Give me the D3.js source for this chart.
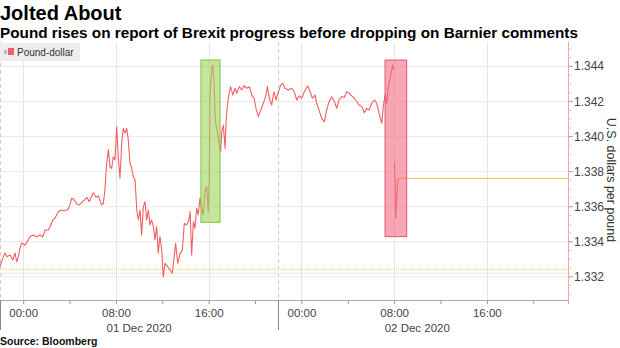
<!DOCTYPE html>
<html>
<head>
<meta charset="utf-8">
<script src="https://cdn.jsdelivr.net/npm/d3@7"></script>
<style>
  body { margin: 0; background: #fff; }
  svg { display: block; font-family: "Liberation Sans", Arial, sans-serif; }
</style>
</head>
<body>
<svg id="chart" width="620" height="348"></svg>
<script>
// GBP/USD intraday, minutes relative to 01 Dec 2020 00:00 (null = gap in the feed)
const minutes = [-120,-103,-94,-85,-68,-54,-42,-34,-25,-17,-8,9,18,35,52,70,87,101,113,130,139,153,165,173,182,199,216,233,242,251,263,277,290,308,320,329,342,355,363,377,389,406,415,423,432,441,449,458,466,475,484,492,501,510,518,527,536,544,553,562,570,579,588,596,605,613,622,631,639,648,656,665,674,682,691,699,708,717,725,734,748,760,772,782,789,800,812,824,834,846,858,864,872,881,889,898,906,915,924,932,941,950,958,963,967,976,981,988,993,998,1005,1015,1022,1028,1036,1045,1050,1057,1067,1074,1085,1097,1105,1119,1131,1143,1157,1171,1183,1195,1205,1217,1230,1243,1257,1264,1274,1286,1298,1309,1321,1333,1343,1355,1372,1390,1403,1416,1428,1442,1455,1473,1485,1497,1511,1519,1531,1545,1559,1571,1583,1597,1611,1623,1635,1649,1662,1675,1687,1701,1714,1727,1738,1752,1766,1778,1790,1804,1818,1830,1842,1856,1864,1873,1882,1890,1903,1909,1913,1916,1919,1922,1926,1928,1932,1937,1942];
const prices = [1.33258,1.33315,1.33336,1.33315,1.33324,1.33296,1.33336,1.33286,1.33315,1.33364,1.33393,1.33381,1.33395,1.33429,1.33439,1.33429,1.33439,1.33427,1.33467,1.33467,1.33486,1.33524,1.33536,1.33553,1.33572,1.33581,1.33577,1.33585,1.33610,1.33648,1.33642,1.33615,1.33610,1.33629,1.33642,1.33654,1.33629,1.33661,1.33680,1.33654,1.33661,1.33610,1.33619,1.33695,1.33848,1.33924,1.33828,1.33819,1.33885,1.33867,1.34057,1.33885,1.33762,1.33962,1.34047,1.34019,1.34047,1.33981,1.33848,1.33819,1.33771,1.33752,1.33581,1.33524,1.33581,1.33439,1.33600,1.33629,1.33524,1.33581,1.33496,1.33524,1.33486,1.33410,1.33486,1.33334,1.33429,1.33353,1.33201,1.33277,1.33258,1.33239,1.33220,1.33315,1.33391,1.33277,1.33334,1.33353,1.33505,1.33496,1.33524,1.33572,1.33324,1.33514,1.33477,1.33591,1.33553,1.33648,1.33591,1.33553,1.33686,1.33714,1.33572,1.33743,1.34237,1.34390,1.34409,1.34313,1.34123,1.34066,1.34028,1.33952,1.33914,1.34028,1.34066,1.33933,1.34085,1.34180,1.34256,1.34285,1.34237,1.34276,1.34247,1.34285,1.34266,1.34290,1.34276,1.34285,1.34237,1.34219,1.34161,1.34114,1.34152,1.34190,1.34237,1.34285,1.34219,1.34180,1.34256,1.34209,1.34256,1.34294,1.34304,1.34276,1.34266,1.34276,1.34256,1.34209,1.34232,1.34219,1.34256,1.34289,1.34256,1.34219,1.34237,1.34190,1.34152,1.34104,1.34085,1.34152,1.34199,1.34228,1.34199,1.34161,1.34209,1.34228,1.34224,1.34256,1.34247,1.34232,1.34219,1.34199,1.34180,1.34171,1.34136,1.34161,1.34152,1.34190,1.34209,1.34190,1.34133,1.34076,1.34171,1.34237,1.34190,1.34285,1.34352,1.34390,1.34409,1.34380,null,1.33857,1.33695,1.33534,1.33610,1.33724,1.33762];

// Axis ticks
const priceTicks = [1.332, 1.334, 1.336, 1.338, 1.340, 1.342, 1.344];
const sessionBreaks = [-120, 1320];            // 22:00 session boundaries
const dateLabels = ["01 Dec 2020", "02 Dec 2020"];
const dateLabelMinutes = [600, 2040];

// Reference levels (prior closes)
const refLevels = [1.33243, 1.33220];

// Highlighted windows: [start, end] minutes and [high, low] prices
const boxStart = [920, 1873];
const boxEnd = [1019, 1985];
const boxHigh = [1.34437, 1.34437];
const boxLow = [1.33511, 1.33429];

const base = Date.UTC(2020, 11, 1, 0, 0);
const toDate = m => new Date(base + m * 60000);

const svg = d3.select("#chart");
const plot = { left: 0, right: 568, top: 42, bottom: 300 };

const x = d3.scaleUtc()
  .domain([toDate(-120), toDate(2820)])
  .range([plot.left, plot.right]);
const y = d3.scaleLinear()
  .domain([1.330676, 1.345398])
  .range([plot.bottom, plot.top]);

const data = minutes.map((m, i) => ({ t: toDate(m), v: prices[i] }));

// Title block
svg.append("text").attr("x", 0).attr("y", 20)
  .attr("font-size", 20).attr("font-weight", "bold").attr("fill", "#000")
  .text("Jolted About");
svg.append("text").attr("x", 0).attr("y", 38)
  .attr("font-size", 15.3).attr("font-weight", "bold").attr("fill", "#000")
  .text("Pound rises on report of Brexit progress before dropping on Barnier comments");

// Horizontal gridlines
svg.append("g").selectAll("line").data(priceTicks).join("line")
  .attr("x1", plot.left).attr("x2", plot.right)
  .attr("y1", d => y(d)).attr("y2", d => y(d))
  .attr("stroke", "#e9e9e9").attr("stroke-width", 1);

// Vertical gridlines every 8 hours
const majorHours = d3.utcHour.every(8).range(x.domain()[0], x.domain()[1]);
svg.append("g").selectAll("line").data(majorHours).join("line")
  .attr("x1", d => Math.round(x(d)) + 0.5).attr("x2", d => Math.round(x(d)) + 0.5)
  .attr("y1", plot.top).attr("y2", plot.bottom)
  .attr("stroke", "#e6e6e6");

// Session boundaries (dashed)
svg.append("g").selectAll("line").data(sessionBreaks).join("line")
  .attr("x1", d => Math.round(x(toDate(d))) + 0.5).attr("x2", d => Math.round(x(toDate(d))) + 0.5)
  .attr("y1", plot.top).attr("y2", plot.bottom)
  .attr("stroke", "#cfcfcf").attr("stroke-dasharray", "4,3");

// Legend
const lg = svg.append("g");
lg.append("rect").attr("x", 0).attr("y", 43).attr("width", 80).attr("height", 18).attr("fill", "#ededed");
lg.append("rect").attr("x", 4).attr("y", 50).attr("width", 3).attr("height", 4).attr("fill", "#bbb");
lg.append("rect").attr("x", 8).attr("y", 48).attr("width", 6).attr("height", 7).attr("fill", "#f25f63");
lg.append("text").attr("x", 17).attr("y", 56).attr("font-size", 10).attr("fill", "#333").text("Pound-dollar");

// Prior-close reference lines
svg.append("line")
  .attr("x1", plot.left).attr("x2", plot.right)
  .attr("y1", y(refLevels[0])).attr("y2", y(refLevels[0]))
  .attr("stroke", "#f3cf45").attr("stroke-width", 1).attr("stroke-dasharray", "1,1");
svg.append("line")
  .attr("x1", plot.left).attr("x2", plot.right)
  .attr("y1", y(refLevels[1])).attr("y2", y(refLevels[1]))
  .attr("stroke", "#f6c59a").attr("stroke-width", 1).attr("stroke-dasharray", "1,1");

// Last-price line
const last = data[data.length - 1];
svg.append("line")
  .attr("x1", x(last.t)).attr("x2", plot.right)
  .attr("y1", y(last.v)).attr("y2", y(last.v))
  .attr("stroke", "#f2c04c").attr("stroke-width", 1);

// Price line
const line = d3.line()
  .defined(d => d.v != null)
  .x(d => x(d.t)).y(d => y(d.v));
svg.append("path").datum(data)
  .attr("d", line).attr("fill", "none")
  .attr("stroke", "#f25f63").attr("stroke-width", 1.1).attr("stroke-linejoin", "round");

// Highlight boxes
const boxFill = ["#9fd45c", "#f46b80"];
const boxStroke = ["#80c43c", "#ea5570"];
svg.append("g").selectAll("rect").data(boxStart).join("rect")
  .attr("x", (d, i) => x(toDate(d)))
  .attr("width", (d, i) => x(toDate(boxEnd[i])) - x(toDate(d)))
  .attr("y", (d, i) => y(boxHigh[i]))
  .attr("height", (d, i) => y(boxLow[i]) - y(boxHigh[i]))
  .attr("fill", (d, i) => boxFill[i]).attr("fill-opacity", 0.6)
  .attr("stroke", (d, i) => boxStroke[i]).attr("stroke-width", 1);

// Right price axis
const yAxis = svg.append("g").attr("transform", `translate(${plot.right},0)`);
yAxis.append("line").attr("x1", 0.5).attr("x2", 0.5).attr("y1", plot.top).attr("y2", plot.bottom)
  .attr("stroke", "#f4a3ad");
const minorTicks = d3.range(1.3310, 1.3454, 0.0005);
yAxis.selectAll("line.minor").data(minorTicks).join("line").attr("class", "minor")
  .attr("x1", 0).attr("x2", 3).attr("y1", d => y(d)).attr("y2", d => y(d))
  .attr("stroke", "#f4b8bf");
yAxis.selectAll("line.major").data(priceTicks).join("line").attr("class", "major")
  .attr("x1", 0).attr("x2", 5).attr("y1", d => y(d)).attr("y2", d => y(d))
  .attr("stroke", "#f08d9a");
yAxis.selectAll("text").data(priceTicks).join("text")
  .attr("x", 6).attr("y", d => y(d) + 4)
  .attr("font-size", 12).attr("fill", "#444")
  .text(d3.format(".3f"));
svg.append("text")
  .attr("transform", `translate(607,180) rotate(90)`)
  .attr("text-anchor", "middle").attr("font-size", 12.5).attr("fill", "#333")
  .text("U.S. dollars per pound");

// Bottom time axis
const xAxis = d3.axisBottom(x)
  .ticks(d3.utcHour.every(4))
  .tickSize(4)
  .tickFormat(d => d.getUTCHours() % 8 === 0 ? d3.utcFormat("%H:%M")(d) : "");
const gx = svg.append("g").attr("transform", `translate(0,${plot.bottom})`).call(xAxis);
gx.select(".domain").attr("stroke", "#aaa");
gx.selectAll(".tick line").attr("stroke", "#999");
gx.selectAll(".tick text").attr("font-size", 11.5).attr("fill", "#444")
  .attr("font-family", "'Liberation Sans', Arial, sans-serif").attr("dy", "0.9em");

svg.append("g").selectAll("line").data(sessionBreaks).join("line")
  .attr("x1", d => Math.round(x(toDate(d))) + 0.5).attr("x2", d => Math.round(x(toDate(d))) + 0.5)
  .attr("y1", plot.bottom).attr("y2", 330)
  .attr("stroke", "#888");

svg.append("g").selectAll("text").data(dateLabels).join("text")
  .attr("x", (d, i) => x(toDate(dateLabelMinutes[i])))
  .attr("y", 332).attr("text-anchor", "middle")
  .attr("font-size", 11.5).attr("fill", "#444")
  .text(d => d);

// Source
svg.append("text").attr("x", 0).attr("y", 345)
  .attr("font-size", 10.5).attr("font-weight", "bold").attr("fill", "#111")
  .text("Source: Bloomberg");
</script>
</body>
</html>
